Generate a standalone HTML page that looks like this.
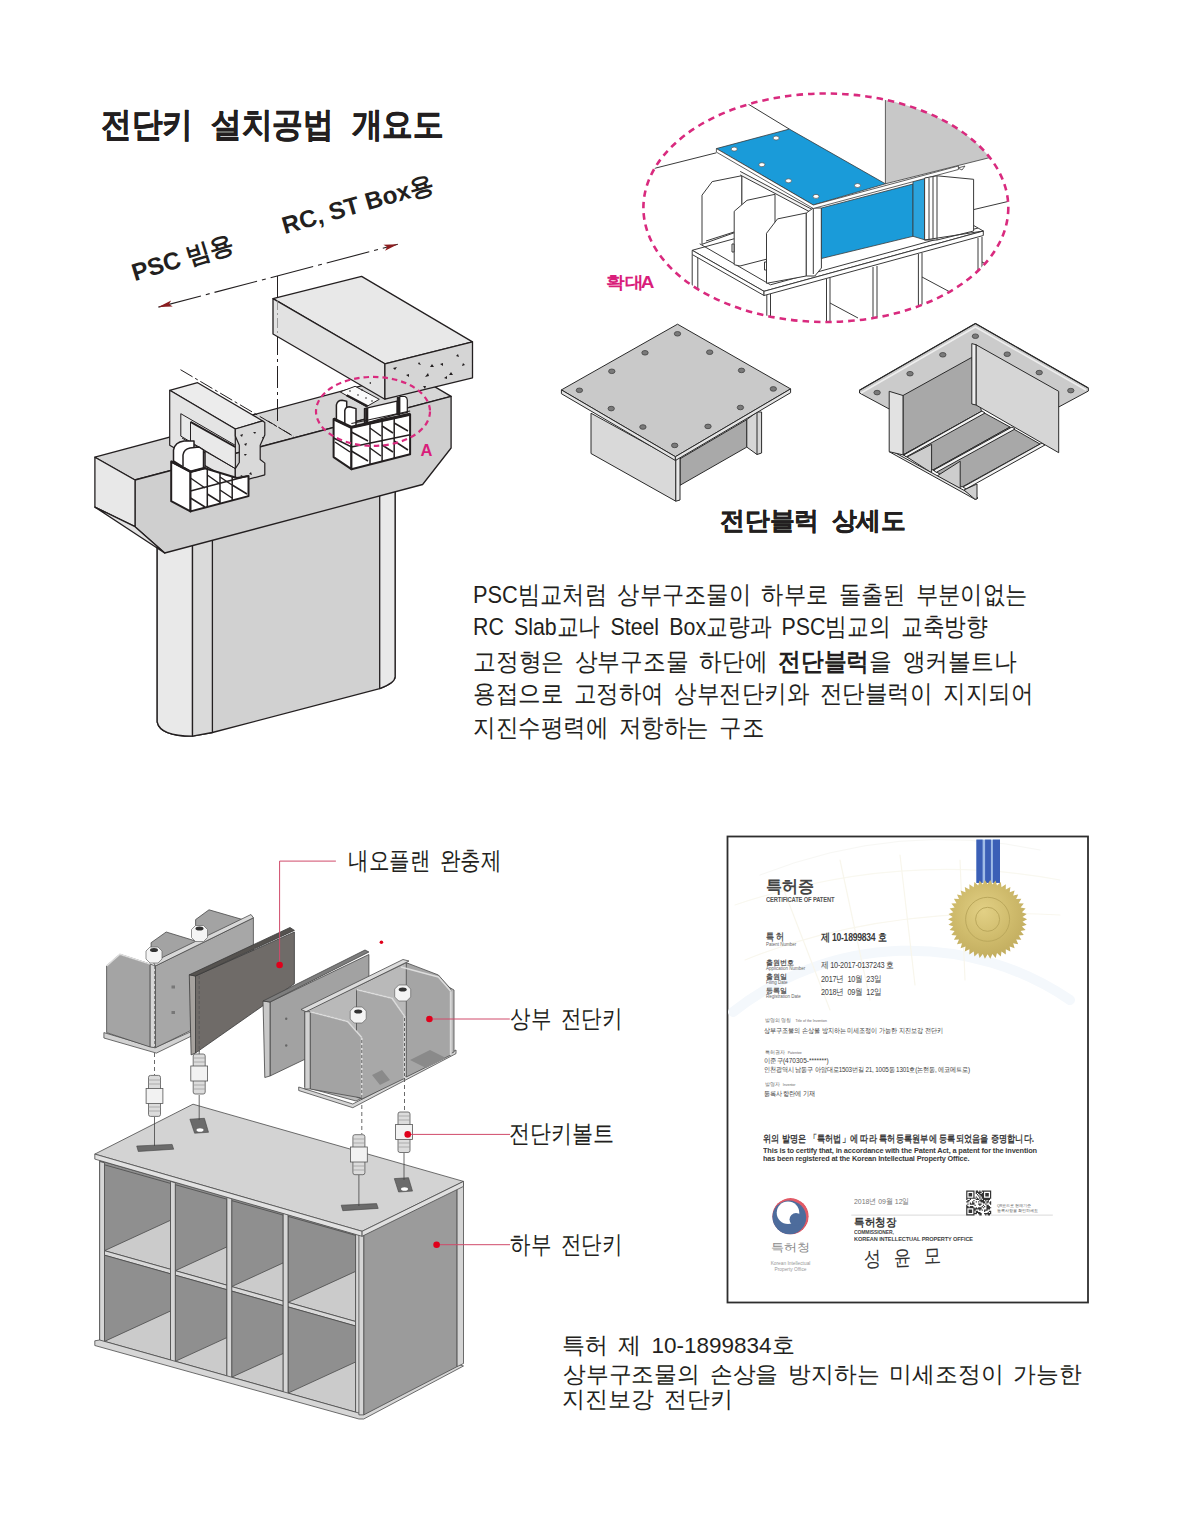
<!DOCTYPE html>
<html><head><meta charset="utf-8">
<style>
html,body{margin:0;padding:0;background:#fff;}
body{width:1180px;height:1520px;position:relative;overflow:hidden;font-family:"Liberation Sans",sans-serif;color:#231f20;}
.t{position:absolute;white-space:nowrap;line-height:1;}
.c{position:absolute;white-space:nowrap;line-height:1;transform-origin:0 0;}
svg{position:absolute;left:0;top:0;}
</style></head><body>
<svg width="1180" height="1520" viewBox="0 0 1180 1520">
<defs>
  <marker id="ah" viewBox="0 0 14 7" refX="14" refY="3.5" markerWidth="14" markerHeight="7" markerUnits="userSpaceOnUse" orient="auto"><path d="M0,0.4 L14,3.5 L0,6.6 L3,3.5 Z" fill="#8b1d1f"/></marker>
  <marker id="ah2" viewBox="0 0 14 7" refX="0" refY="3.5" markerWidth="14" markerHeight="7" markerUnits="userSpaceOnUse" orient="auto"><path d="M14,0.4 L0,3.5 L14,6.6 L11,3.5 Z" fill="#8b1d1f"/></marker>
</defs>
<g id="arrow" stroke="#231f20" fill="none">
  <line x1="158.4" y1="307.1" x2="397.8" y2="244.3" stroke-width="1.1" stroke-dasharray="44 5 4 5" marker-end="url(#ah)" marker-start="url(#ah2)"/>
  <line x1="277.5" y1="276" x2="277.5" y2="300" stroke-width="1"/>
</g>
<g id="pier" stroke="#231f20" stroke-width="1.3" stroke-linejoin="round">
  <path d="M157.2,540 L157.2,722 Q160,736 192.3,736.2 L212.4,732.5 L379.7,688.6 Q395,683 395.1,676.8 L395.1,480 Z" fill="#d1d1d1"/>
  <path d="M157.2,540 L157.2,722 Q160,736 192.5,736.2 L192.5,540 Z" fill="#e9e9e9"/>
  <path d="M192.5,540 L192.5,736.2 L212.4,732.5 L212.4,540 Z" fill="#dadada"/>
  <path d="M379.7,480 L379.7,688.6 Q395,683 395.1,676.8 L395.1,480 Z" fill="#e9e9e9"/>
  <path d="M94.9,457.2 L410.7,372.6 L451.1,396.4 L135,480 Z" fill="#d6d6d6"/>
  <path d="M135,480 L451.1,396.4 L451.1,448 L422.6,484.5 L164.7,553 L135,526.7 Z" fill="#cfcfcf"/>
  <path d="M94.9,457.2 L135,480 L135,526.7 L94.9,507.1 Z" fill="#e8e8e8"/>
  <path d="M94.9,507.1 L135,526.7 L164.7,553 Z" fill="#e3e3e3"/>
</g>
<g id="dashes" stroke="#231f20" fill="none" stroke-width="1">
  <line x1="277.5" y1="300" x2="277.5" y2="425" stroke-dasharray="22 4 3 4"/>
  <line x1="268" y1="421" x2="294" y2="436.6" stroke-dasharray="9 3 3 3"/>
</g>
<g id="girder" stroke="#231f20" stroke-width="1.3" stroke-linejoin="round">
  <path d="M273,298.6 L361.6,276.4 L472.5,341.9 L384.9,363.8 Z" fill="#e8e8e8"/>
  <path d="M273,298.6 L384.9,363.8 L384.9,399.2 L273,334 Z" fill="#e2e2e2"/>
  <path d="M384.9,363.8 L472.5,341.9 L472.5,377.8 L384.9,399.2 Z" fill="#d5d5d5"/>
  <line x1="277.5" y1="300" x2="277.5" y2="336" stroke-width="0.8" stroke="#888" stroke-dasharray="10 3 2 3"/>
  <g fill="#231f20" stroke="none">
    <path d="M393,368 l4,-1 l-2,3z M418,364 l3,1 l-2,-3z M430,367 l4,0 l-2,-3z M440,364 l3,2 l0,-3z M425,377 l4,-1 l-1,-3z M406,375 l3,2 l0,-3z M456,356 l3,1 l-1,-3z M462,366 l3,-1 l-2,-2z M449,375 l4,0 l-2,-3z M444,378 l3,1 l0,-3z M423,386 l2,3 l1,-3z M369,383 l2,1 l0,-2z"/>
  </g>
</g>
<g id="psc" stroke="#231f20" stroke-width="1.2" stroke-linejoin="round">
  <path d="M169.7,390.3 L197.6,382.7 L262.7,420.9 L235.3,429 Z" fill="#ececec"/>
  <path d="M169.7,390.3 L235.3,429 L235.3,482.9 L169.7,445.3 Z" fill="#e4e4e4"/>
  <path d="M180.8,413.7 L235.3,445.3 L235.3,468.6 L180.8,436.1 Z" fill="#e9e9e9" stroke-width="1"/>
  <path d="M190.5,421.9 L235.3,447" fill="none" stroke-width="2"/>
  <path d="M190.5,421.9 L190.5,441" fill="none" stroke-width="1"/>
  <path d="M182,438 L235.3,468.6" fill="none" stroke-width="1"/>
  <path d="M235.3,429 L262.7,420.9 L264.8,422.4 L264.8,435.1 L260.2,445.3 L260.2,459.5 L264.8,463.1 L264.8,474.8 L235.3,482.9 L235.3,468.6 L239.3,462.5 L239.3,445.3 L235.3,436.1 Z" fill="#d9d9d9"/>
  <g fill="#231f20" stroke="none"><path d="M240,435 l3,-1 l-1,3z M253,432 l3,0 l-1,2z M244,444 l2,2 l1,-3z M245,456 l2,-2 l-3,0z M240,476 l3,1 l-1,-2z M249,474 l2,-2 l1,3z M262,437 l2,0 l-1,2z"/></g>
  <line x1="180.5" y1="369.7" x2="294" y2="436.6" stroke-width="1" stroke-dasharray="14 3 3 3"/>
</g>
<g id="keyL" stroke="#231f20" stroke-linejoin="round" fill="#fff">
  <path d="M171.2,461.5 L190.5,471.7 L190.5,511.4 L171.2,501.2 Z" stroke-width="2"/>
  <path d="M190.5,471.7 L204,468 L237,478 L248.5,476 L248.5,496.1 L190.5,511.4 Z" stroke-width="2"/>
  <g fill="none" stroke-width="1.5">
    <path d="M207.3,467 L207.3,507 M220,472 L220,503.6 M232.2,476 L232.2,500.3 M190.5,491 L247.5,476"/>
    <path d="M190.5,478 L205,488 M207.3,475 L220,484 M220,477 L232,485 M190.5,498 L205,507 M207.3,494 L220,502 M220,490 L232,498 M232.2,485 L247,494"/>
  </g>
  <path d="M173.5,461 L173.5,450 Q175,442 184,441 L194,441 L194,455 L205,452 L205,468 L190.5,471.7 Z" stroke-width="1.5"/>
  <path d="M183,466 L183,455 Q184,449 190,448 L199,447 L203.5,450 L203.5,468" stroke-width="1.5"/>
  <path d="M171.2,461.5 L190.5,471.7 L205,468" fill="none" stroke-width="2.5"/>
</g>
<g id="keyR" stroke="#231f20" stroke-linejoin="round" fill="#fff">
  <path d="M333.6,418.9 L351.4,427.3 L351.4,469.2 L333.6,457.1 Z" stroke-width="2"/>
  <path d="M351.4,427.3 L410.1,414.2 L410.1,454.3 L351.4,469.2 Z" stroke-width="2"/>
  <g fill="none" stroke-width="1.5">
    <path d="M370,423 L370,464.5 M382.1,420.4 L382.1,461.5 M394.2,417.7 L394.2,458.4 M351.4,446.9 L410.1,434.7 M333.6,438 L351.4,446.9"/>
    <path d="M351.4,432 L368,441 M370,428 L381,436 M382.1,426 L393,433 M394.2,423 L408,431 M351.4,451 L368,461 M370,448 L381,456 M382.1,445 L393,452 M394.2,441 L408,450 M335,442 L350,452"/>
  </g>
  <path d="M340.2,391.9 L355.1,386.3 L379.3,399.3 L366.3,406.8 Z" fill="#fafafa" stroke-width="1"/>
  <path d="M346.6,395.3 L367.6,406.3" fill="none" stroke-width="2.2"/>
  <g fill="#231f20" stroke="none"><circle cx="350" cy="391" r="0.8"/><circle cx="358" cy="395" r="0.8"/><circle cx="366" cy="398" r="0.8"/><circle cx="372" cy="401" r="0.8"/><circle cx="362" cy="390" r="0.8"/></g>
  <path d="M336.4,420 L336.4,404.9 Q337.5,400.3 342,400.3 L346.7,401.2 L346.7,424" stroke-width="1.5"/>
  <path d="M344.8,424 L344.8,410.5 Q345.5,406.8 349.5,406.8 L356,408.6 L356,427" stroke-width="1.5"/>
  <path d="M364.4,408.6 L397,401.2 L397,414.2 L364.4,423.6 Z" stroke-width="1.2"/>
  <path d="M366.7,408 L366.7,425" stroke-width="3.2"/>
  <path d="M399.8,396.5 L405,396.5 Q407.3,397.5 407.3,400 L407.3,412.4 L399.8,414 Z" stroke-width="1.2"/>
  <path d="M398.4,397 L398.4,415" stroke-width="3.2"/>
  <path d="M351.4,423.5 L410.1,411" fill="none" stroke-width="1.2"/>
  <path d="M333.6,418.9 L351.4,427.3 L410.1,414.2" fill="none" stroke-width="3"/>
</g>
<g id="ellA" fill="none" stroke="#d92a7e" stroke-width="2.2">
  <ellipse cx="373" cy="411.4" rx="57" ry="34.5" stroke-dasharray="5.5 4"/>
</g>
<text x="420.5" y="455.5" font-family="Liberation Sans, sans-serif" font-weight="bold" font-size="16.5" fill="#d91e7b">A</text>
<defs><clipPath id="clipE"><ellipse cx="825.85" cy="207.75" rx="182.45" ry="114.25"/></clipPath></defs>
<g id="zoomA" clip-path="url(#clipE)" stroke="#3a3a3a" stroke-width="1" stroke-linejoin="round" fill="#fff">
  <path d="M640,172 L716.4,152.8 M730,93 L789.3,129.1 M973.6,209.6 L1010,201" fill="none"/>
  <path d="M885.4,80 L885.4,183.8 L1010,152.5 L1010,80 Z" fill="#c8c8c8" stroke-width="0.8"/>
  <path d="M958,168 l7,-2 l-3,4z" fill="#fff" stroke-width="0.8"/>
  <!-- legs and grid below base -->
  <g fill="none">
    <path d="M692.2,254.5 L692.2,340 M697.8,256 L697.8,340 M766.8,295 L766.8,340 M770.5,294 L770.5,340 M826.5,279 L826.5,340 M830,278 L830,340 M873,267 L873,340 M877,266 L877,340 M918.4,254 L918.4,340 M922,253 L922,340 M978,238 L978,340 M982,237 L982,340"/>
    <path d="M922,277 L950,292 M830,303 L858,318 M982,262 L1010,276"/>
  </g>
  <!-- base frame -->
  <path d="M692.2,250.3 L764,291.3 L983.3,231 L911.5,190 Z"/>
  <path d="M692.2,250.3 L764,291.3 L764,295.5 L692.2,254.5 Z"/>
  <path d="M764,291.3 L983.3,231 L983.3,235.5 L764,295.5 Z"/>
  <path d="M699.7,243.8 L770.5,284.8 L978,228" fill="none"/>
  <!-- back wall plates -->
  <path d="M702,244.3 L702,195.2 L712.2,181.6 L741.9,175.7 L741.9,230 Z"/>
  <path d="M741.9,175.7 L813,214 L813,270 L741.9,232 Z" stroke="none"/>
  <path d="M706,241 L734,232 M736,262 L766,254 M741.9,176 L741.9,226" fill="none"/>
  <path d="M734.2,264.7 L734.2,211.3 L747,200.3 L775,194.3 L775,257 L740,266 Z"/>
  <path d="M766.5,283.3 L766.5,233.3 L777.5,218.9 L806.3,213 L806.3,276 Z"/>
  <path d="M732,244 l2,0 l0,8 l-2,0 z M764.5,262 l2,0 l0,8 l-2,0z" fill="#fff"/>
  <!-- left flange strip under plate -->
  <path d="M740.2,171.4 L813.9,210.4 L813.9,214 L740.2,175" fill="#f4f4f4"/>
  <!-- front vertical plate -->
  <path d="M806.3,213 L813.3,208 L821.4,208 L821.4,268 L814.8,276 L806.3,276 Z"/>
  <path d="M813.3,208 L813.3,274" fill="none"/>
  <!-- blue web -->
  <path d="M821.4,208 L913,184 L913,236.3 L821.4,258.5 Z" fill="#1a9bd9" stroke-width="0.8"/>
  <path d="M913,181.1 L924.6,178.4 L924.6,239.8 L913,236.3 Z" fill="#2ba3dd" stroke-width="0.8"/>
  <!-- blue top plate -->
  <path d="M716.4,148.6 L789.3,129.1 L885.4,183.8 L813.3,205 Z" fill="#1a9bd9" stroke-width="0.8"/>
  <path d="M716.4,148.6 L813.3,205 L958.4,166 L958.4,169.5 L813.3,208.5 L716.4,152.1 Z" fill="#fff" stroke-width="0.8"/>
  <g fill="#fff" stroke="#555" stroke-width="0.7">
    <ellipse cx="734.2" cy="149.1" rx="3" ry="2"/><ellipse cx="776.1" cy="138" rx="3" ry="2"/><ellipse cx="761.9" cy="164.7" rx="3" ry="2"/><ellipse cx="788.5" cy="180.8" rx="3" ry="2"/><ellipse cx="816" cy="196.4" rx="3" ry="2"/><ellipse cx="857.5" cy="185.5" rx="3" ry="2"/>
  </g>
  <!-- right shear key -->
  <path d="M924.6,178 L937,175.8 L973.6,179.3 L973.6,231 L937,240 L924.6,240 Z"/>
  <path d="M929,178 L929,240 M933,177 L933,239 M937,176 L937,240" fill="none"/>
  <path d="M924.6,240 L983.3,231" fill="none"/>
</g>
<ellipse cx="825.85" cy="207.75" rx="182.45" ry="114.25" fill="none" stroke="#d92a7e" stroke-width="2.6" stroke-dasharray="6.5 5"/>
<text x="606.5" y="288" font-family="Liberation Sans, sans-serif" font-weight="bold" font-size="17.2" fill="#d91e7b" transform="translate(606.5,288) scale(1.1,1) translate(-606.5,-288)">확대<tspan dx="-3">A</tspan></text>
<g id="blockL" stroke="#2a2a2a" stroke-width="1" stroke-linejoin="round">
  <path d="M591,413.2 L675.8,459.9 L675.8,501.2 L591,453.5 Z" fill="#d9d9d9"/>
  <path d="M680,458.8 L746.8,419.6 L746.8,447.1 L680,485.3 Z" fill="#a9a9a9"/>
  <path d="M746.8,419.6 L757,412 L761.6,412 L761.6,453 L757,454.5 L746.8,447.1 Z" fill="#d6d6d6"/>
  <path d="M757,412 L757,454.5" fill="none"/>
  <path d="M675.8,458 L680,457 L680,500 L675.8,501.2 Z" fill="#e8e8e8"/>
  <path d="M677.5,324.2 L790.6,388.9 L675.4,456.7 L561.4,389.9 Z" fill="#c9c9c9"/>
  <path d="M561.4,389.9 L675.4,456.7 L675.4,460.5 L561.4,393.7 Z" fill="#e4e4e4"/>
  <path d="M675.4,456.7 L790.6,388.9 L790.6,392.7 L675.4,460.5 Z" fill="#e4e4e4"/>
  <g fill="#7a7a7a" stroke="#444" stroke-width="0.8">
    <ellipse cx="677.5" cy="333.8" rx="3.2" ry="2.3"/><ellipse cx="645" cy="352.8" rx="3.2" ry="2.3"/><ellipse cx="709.7" cy="352.2" rx="3.2" ry="2.3"/><ellipse cx="611.8" cy="371.3" rx="3.2" ry="2.3"/><ellipse cx="741.5" cy="370.4" rx="3.2" ry="2.3"/><ellipse cx="579.4" cy="390.3" rx="3.2" ry="2.3"/><ellipse cx="773.3" cy="388.9" rx="3.2" ry="2.3"/><ellipse cx="611.2" cy="408.6" rx="3.2" ry="2.3"/><ellipse cx="740.4" cy="407.5" rx="3.2" ry="2.3"/><ellipse cx="642.9" cy="427" rx="3.2" ry="2.3"/><ellipse cx="708" cy="426.4" rx="3.2" ry="2.3"/><ellipse cx="674.7" cy="445.4" rx="3.2" ry="2.3"/>
  </g>
</g>
<g id="blockR" stroke="#2a2a2a" stroke-width="1" stroke-linejoin="round">
  <path d="M975.4,323.5 L1088.4,388.1 L1088.4,391 L1058.7,407 L976,360 L903,397 L889.2,409 L859.5,393 L859.5,390.2 Z" fill="#cbcbcb"/>
  <path d="M859.5,390.2 L975.4,323.5 L1088.4,388.1" fill="none" stroke-width="1.2"/>
  <path d="M861,393 L975.4,327 L1086,390" fill="none" stroke="#eee" stroke-width="1.5"/>
  <path d="M903,395.5 L971.8,357.4 L981.4,411.4 L903,454.9 Z" fill="#a8a8a8"/>
  <path d="M903,454.9 L981.4,411.4 L1010,427 L933,470 Z" fill="#a6a6a6"/>
  <path d="M933,470 L1010,427 L1040,444 L962,487 Z" fill="#a8a8a8"/>
  <path d="M907,457 L931.6,444.3 L931.6,472.9 Z M937,476 L960.2,461.2 L960.2,488.8 Z" fill="#cdcdcd"/>
  <path d="M904,454.9 L982,411 L985,413 L906,457 Z" fill="#f2f2f2"/>
  <path d="M934,470 L1012,427 L1015,429 L936,472.5 Z" fill="#f2f2f2"/>
  <path d="M963,487 L1042,443 L1045,445 L966,489 Z" fill="#f2f2f2"/>
  <path d="M889.2,451.7 L975,499.3 L978,498 L892,451 Z" fill="#e6e6e6"/>
  <path d="M889.2,391.3 L903,395.5 L903,454.9 L889.2,451.7 Z" fill="#e2e2e2"/>
  <path d="M964,490 L977,484 L977,499 L975,499.3 Z" fill="#cfcfcf"/>
  <path d="M976,344.7 L1058.7,391.3 L1058.7,452.7 L976,405 Z" fill="#d6d6d6"/>
  <path d="M971.8,343.6 L976,344.7 L976,405 L971.8,404 Z" fill="#eeeeee"/>
  <g fill="#7a7a7a" stroke="#444" stroke-width="0.8">
    <ellipse cx="975.4" cy="336.2" rx="3.2" ry="2.3"/><ellipse cx="942.8" cy="354.8" rx="3.2" ry="2.3"/><ellipse cx="1007.2" cy="354.2" rx="3.2" ry="2.3"/><ellipse cx="910" cy="373.7" rx="3.2" ry="2.3"/><ellipse cx="1039.2" cy="372.6" rx="3.2" ry="2.3"/><ellipse cx="877.1" cy="392.6" rx="3.2" ry="2.3"/><ellipse cx="1070.8" cy="390.6" rx="3.2" ry="2.3"/>
  </g>
</g>
<g id="lowerBox" stroke="#4a4a4a" stroke-width="0.8" stroke-linejoin="round">
  <path d="M99.7,1160.5 L358.9,1234.6 L358.9,1414.9 L99.7,1344 Z" fill="#8f8f8f"/>
    <path d="M104.5,1164.8 L170.5,1183.4 L170.5,1269.3 L104.5,1250.7 Z" fill="#8f8f8f"/>
    <path d="M104.5,1250.7 L170.5,1220.3 L170.5,1269.3 Z" fill="#cbcbcb"/>
    <path d="M104.5,1250.7 L170.5,1269.3 L170.5,1273.8 L104.5,1255.2 Z" fill="#d9d9d9"/>
    <path d="M104.5,1255.2 L170.5,1273.8 L170.5,1360.0 L104.5,1341.4 Z" fill="#8f8f8f"/>
    <path d="M104.5,1341.4 L170.5,1311.0 L170.5,1360.0 Z" fill="#cbcbcb"/>
    <path d="M175.3,1184.7 L226.9,1199.2 L226.9,1285.2 L175.3,1270.7 Z" fill="#8f8f8f"/>
    <path d="M175.3,1270.7 L226.9,1246.9 L226.9,1285.2 Z" fill="#cbcbcb"/>
    <path d="M175.3,1270.7 L226.9,1285.2 L226.9,1289.7 L175.3,1275.2 Z" fill="#d9d9d9"/>
    <path d="M175.3,1275.2 L226.9,1289.7 L226.9,1375.9 L175.3,1361.3 Z" fill="#8f8f8f"/>
    <path d="M175.3,1361.3 L226.9,1337.6 L226.9,1375.9 Z" fill="#cbcbcb"/>
    <path d="M231.7,1200.6 L283.2,1215.1 L283.2,1301.1 L231.7,1286.6 Z" fill="#8f8f8f"/>
    <path d="M231.7,1286.6 L283.2,1262.9 L283.2,1301.1 Z" fill="#cbcbcb"/>
    <path d="M231.7,1286.6 L283.2,1301.1 L283.2,1305.6 L231.7,1291.1 Z" fill="#d9d9d9"/>
    <path d="M231.7,1291.1 L283.2,1305.6 L283.2,1391.7 L231.7,1377.2 Z" fill="#8f8f8f"/>
    <path d="M231.7,1377.2 L283.2,1353.5 L283.2,1391.7 Z" fill="#cbcbcb"/>
    <path d="M288.0,1216.4 L355.6,1235.4 L355.6,1321.5 L288.0,1302.4 Z" fill="#8f8f8f"/>
    <path d="M288.0,1302.4 L355.6,1271.4 L355.6,1321.5 Z" fill="#cbcbcb"/>
    <path d="M288.0,1302.4 L355.6,1321.5 L355.6,1326.0 L288.0,1306.9 Z" fill="#d9d9d9"/>
    <path d="M288.0,1306.9 L355.6,1326.0 L355.6,1412.2 L288.0,1393.1 Z" fill="#8f8f8f"/>
    <path d="M288.0,1393.1 L355.6,1362.0 L355.6,1412.2 Z" fill="#cbcbcb"/>
    <path d="M99.7,1161.5 L104.5,1162.8 L104.5,1342.4 L99.7,1341.0 Z" fill="#d6d6d6"/>
    <path d="M170.5,1181.4 L175.3,1182.7 L175.3,1362.3 L170.5,1361.0 Z" fill="#d6d6d6"/>
    <path d="M226.9,1197.2 L231.7,1198.6 L231.7,1378.2 L226.9,1376.9 Z" fill="#d6d6d6"/>
    <path d="M283.2,1213.1 L288.0,1214.4 L288.0,1394.1 L283.2,1392.7 Z" fill="#d6d6d6"/>
    <path d="M355.6,1233.4 L360.4,1234.8 L360.4,1414.5 L355.6,1413.2 Z" fill="#d6d6d6"/>
  <path d="M94.8,1340.8 L99.7,1340 L360.5,1413.5 L457.1,1364 L463.5,1366 L363.7,1419 L358.9,1419 L94.8,1345.5 Z" fill="#d6d6d6"/>
  <path d="M363.7,1234.6 L457.1,1186.3 L457.1,1366.6 L363.7,1414.9 Z" fill="#9b9b9b"/>
  <path d="M457.1,1186.3 L463.5,1183 L463.5,1363.5 L457.1,1366.6 Z" fill="#d4d4d4"/>
  <path d="M358.9,1234.6 L363.7,1234.6 L363.7,1414.9 L358.9,1414.9 Z" fill="#d6d6d6"/>
  <path d="M94.8,1154.1 L193,1104.2 L463.5,1181.4 L362.1,1231.3 Z" fill="#d3d3d3"/>
  <path d="M94.8,1154.1 L362.1,1231.3 L362.1,1236.3 L94.8,1159.1 Z" fill="#e2e2e2"/>
  <path d="M362.1,1231.3 L463.5,1181.4 L463.5,1186.4 L362.1,1236.3 Z" fill="#e0e0e0"/>
  <g fill="#6b6b6b" stroke="#444" stroke-width="0.6">
    <path d="M136.7,1146 L172.1,1144.4 L173.7,1149.2 L138.3,1151.5 Z"/>
    <path d="M341.2,1205.2 L376.6,1203.6 L378.2,1208.4 L342.8,1210.7 Z"/>
    <path d="M189.9,1119.2 L204.4,1118.3 L208.5,1132.3 L194.6,1133.2 Z"/>
    <path d="M394.3,1178.6 L408.5,1177.7 L412.5,1191.1 L398.6,1192 Z"/>
  </g>
  <ellipse cx="200" cy="1130" rx="3.5" ry="1.8" fill="#fff" stroke="none"/>
  <ellipse cx="404.5" cy="1189" rx="3.5" ry="1.8" fill="#fff" stroke="none"/>
</g>
<g id="bolts" stroke="#555" stroke-width="0.8">
  <path d="M154.5,1053 L154.5,1075 M199.2,1036 L199.2,1054 M361.8,1098 L361.8,1134 M404.5,1078 L404.5,1111" stroke="#444" stroke-dasharray="4 3" fill="none"/>
  <path d="M154.5,1117 L154.5,1146 M199.2,1095 L199.2,1120 M358.9,1175 L358.9,1206 M404,1153 L404,1180" fill="none" stroke="#444"/>
  <g fill="#dcdcdc">
    <rect x="148.5" y="1075.4" width="12" height="41" rx="2"/>
    <rect x="146.1" y="1088.5" width="16.8" height="15" fill="#f2f2f2"/>
    <rect x="193.2" y="1054" width="12" height="40" rx="2"/>
    <rect x="190.8" y="1066" width="16.8" height="15" fill="#f2f2f2"/>
    <rect x="352.9" y="1134.7" width="12" height="40" rx="2"/>
    <rect x="350.5" y="1147" width="16.8" height="15" fill="#f2f2f2"/>
    <rect x="398" y="1112" width="12" height="40.5" rx="2"/>
    <rect x="395.6" y="1124.5" width="16.8" height="15" fill="#f2f2f2"/>
  </g>
  <path d="M148.5,1080 h12 M148.5,1084 h12 M148.5,1107 h12 M148.5,1111 h12 M193.2,1058 h12 M193.2,1062 h12 M193.2,1085 h12 M193.2,1089 h12 M352.9,1139 h12 M352.9,1143 h12 M352.9,1166 h12 M352.9,1170 h12 M398,1116 h12 M398,1120 h12 M398,1143 h12 M398,1147 h12" fill="none" stroke="#999" stroke-width="0.7"/>
</g>
<g id="upperL" stroke="#4a4a4a" stroke-width="0.8" stroke-linejoin="round">
  <path d="M195.6,940 L195.6,919.6 L209,909.8 L242.7,919.6 L242.7,935 Z" fill="#a3a3a3"/>
  <path d="M151.1,962 L151.1,942.7 L166.2,932 L198.2,941.8 L198.2,950 Z" fill="#a3a3a3"/>
  <path d="M103.9,1032.6 L154.6,1047.7 L191.1,1031.7 L191.1,1036.2 L156.4,1053.1 L103.9,1038 Z" fill="#d2d2d2"/>
  <path d="M155.5,965.9 L253.4,917.8 L253.4,1000 L155.5,1047.7 Z" fill="#a7a7a7"/>
  <path d="M153,962 L251,914.5 L253.4,917.8 L155.5,965.9 Z" fill="#d8d8d8"/>
  <path d="M106.6,1032.6 L106.6,965.9 L119.9,954.3 L150.2,964.1 L150.2,1047 Z" fill="#a4a4a4"/>
  <path d="M150.2,964.1 L155.5,965.9 L155.5,1047.7 L150.2,1047 Z" fill="#d6d6d6"/>
  <path d="M106.6,965.9 L119.9,954.3 L150.2,964.1" fill="none" stroke="#ddd" stroke-width="1.5"/>
  <g fill="#f4f4f4" stroke="#666" stroke-width="0.7">
    <path d="M146,951 L150,947 L158,947 L162,951 L162,959 L158,963 L150,963 L146,959 Z"/>
    <path d="M191.5,929.5 L195.5,925.5 L203.5,925.5 L207.5,929.5 L207.5,937.5 L203.5,941.5 L195.5,941.5 L191.5,937.5 Z"/>
  </g>
  <ellipse cx="154" cy="950" rx="4" ry="2" fill="#333" stroke="none"/>
  <ellipse cx="199.5" cy="928.5" rx="4" ry="2" fill="#333" stroke="none"/>
  <path d="M154.6,966 L154.6,1047" stroke="#666" stroke-dasharray="3 2" fill="none"/>
  <g fill="#777" stroke="none"><rect x="171.5" y="985.5" width="3.5" height="3"/><rect x="171.5" y="1011" width="3.5" height="3"/></g>
</g>
<g id="pad1" stroke="#3a3a3a" stroke-width="0.8" stroke-linejoin="round">
  <path d="M195.5,976 L294.4,932 L294.4,983.7 L195.5,1053 Z" fill="#6f6b68"/>
  <path d="M189.3,974.8 L195.5,976 L195.5,1053 L191.1,1054.9 Z" fill="#a6a29e"/>
  <path d="M189.3,974.8 L290,927.5 L294.4,930.4 L195.5,976 Z" fill="#55524f"/>
  <path d="M199.2,976 L199.2,1052" stroke="#555" stroke-dasharray="3 2" fill="none"/>
</g>
<g id="pad2" stroke="#444" stroke-width="0.8" stroke-linejoin="round">
  <path d="M270,1002 L368.9,954.5 L368.9,1028.6 L270,1076 Z" fill="#a2a2a2"/>
  <path d="M263,1001 L270,1002 L270,1076 L264.8,1077.5 Z" fill="#c8c8c8"/>
  <path d="M263,1001 L365,950 L368.9,952 L270,1002 Z" fill="#7d7d7d"/>
  <g fill="#666" stroke="none"><circle cx="286.2" cy="1018.8" r="1.2"/><circle cx="286.2" cy="1045.5" r="1.2"/></g>
</g>
<g id="upperR" stroke="#4a4a4a" stroke-width="0.8" stroke-linejoin="round">
  <path d="M298.7,1087 L352.8,1104 L456,1050 L456,1053.6 L352.8,1107.7 L298.7,1090.5 Z" fill="#d6d6d6"/>
  <path d="M304.8,1011.7 L406.3,962.7 L454,990 L454,1052 L356,1101 L304.8,1087 Z" fill="#b9b9b9"/>
  <path d="M406.3,962.7 L438.4,975 L450.8,989 L450.8,1055 L406.3,1077 Z" fill="#a5a5a5"/>
  <path d="M356.5,989.4 L392,998.3 L404.5,1016.1 L404.5,1078.4 L362,1099 L356.5,1097 Z" fill="#a8a8a8"/>
  <path d="M410,1060 L430,1050 L446,1058 L426,1068 Z M372,1075 l10,-5 l8,10 l-10,5z" fill="#8a8a8a" stroke="none"/>
  <path d="M310.2,1011.7 L347.6,1021.5 L361.8,1037.5 L361.8,1098 L310.2,1089 Z" fill="#a3a3a3"/>
  <path d="M304.8,1011.7 L310.2,1011.7 L310.2,1089 L304.8,1089 Z" fill="#d2d2d2"/>
  <path d="M301,1009.5 L403,959.5 L409,961 L306,1011.7 Z" fill="#dcdcdc"/>
  <path d="M310.2,1011.7 L347.6,1021.5 L361.8,1037.5 M356.5,989.4 L392,998.3 L404.5,1016.1 M401,967 L438.4,977 L450.8,991.2" fill="none" stroke="#ddd" stroke-width="1.5"/>
  <path d="M361.8,1037.5 L361.8,1098 M404.5,1016.1 L404.5,1078.4 M450.8,991.2 L450.8,1055" fill="none" stroke="#d8d8d8" stroke-width="2"/>
  <path d="M361.8,1040 L361.8,1098 M404.5,1018 L404.5,1080" stroke="#444" stroke-dasharray="3 2" fill="none"/>
  <g fill="#f4f4f4" stroke="#666" stroke-width="0.7">
    <path d="M350.2,1011 L354.2,1007 L362.2,1007 L366.2,1011 L366.2,1019 L362.2,1023 L354.2,1023 L350.2,1019 Z"/>
    <path d="M394.7,989 L398.7,985 L406.7,985 L410.7,989 L410.7,997 L406.7,1001 L398.7,1001 L394.7,997 Z"/>
  </g>
  <ellipse cx="358.2" cy="1011.5" rx="4" ry="2" fill="#333" stroke="none"/>
  <ellipse cx="402.7" cy="989.5" rx="4" ry="2" fill="#333" stroke="none"/>
</g>
<g id="leaders" stroke="#d04a6a" stroke-width="1" fill="none">
  <path d="M335.9,861.1 L279.6,861.1 L279.6,965"/>
  <path d="M429.4,1019 L509.8,1019"/>
  <path d="M407.7,1134.4 L510,1134.4"/>
  <path d="M436.6,1244.7 L510,1244.7"/>
</g>
<g fill="#e0001b">
  <circle cx="279.6" cy="965" r="3.3"/><circle cx="429.4" cy="1019" r="3.3"/><circle cx="407.7" cy="1134.4" r="3.3"/><circle cx="436.6" cy="1244.7" r="3.3"/><circle cx="381.4" cy="942.3" r="1.8"/>
</g>
<defs><radialGradient id="sealG" cx="0.45" cy="0.4" r="0.6"><stop offset="0" stop-color="#e2d085"/><stop offset="0.6" stop-color="#cfbb6c"/><stop offset="1" stop-color="#c2ad5f"/></radialGradient></defs>
<g id="cert">
  <rect x="727.5" y="836.5" width="360.5" height="466" fill="#fff" stroke="#2e2e2e" stroke-width="1.8"/>
  <g fill="none" stroke-linecap="round">
    <path d="M733,1012 A285,285 0 0 1 1070,1000" stroke="#f4f8fc" stroke-width="10"/>
    <path d="M735,905 Q900,850 1060,880" stroke="#f9f8f0" stroke-width="1.2"/>
    <path d="M745,960 Q880,905 1060,915" stroke="#f9f7ee" stroke-width="1.2"/>
    <path d="M840,860 L870,1000 M900,855 L915,985 M960,860 L965,980 M780,880 L830,1010" stroke="#f8f6ec" stroke-width="1.2"/>
    <path d="M760,875 Q900,820 1040,850" stroke="#f7f7f4" stroke-width="1"/>
  </g>
  <rect x="976.4" y="839.6" width="23.6" height="43.3" fill="#9fbbe6"/>
  <rect x="976.4" y="839.6" width="6.2" height="43.3" fill="#3b5fb6"/>
  <rect x="985.1" y="839.6" width="5.8" height="43.3" fill="#3b5fb6"/>
  <rect x="992.9" y="839.6" width="7.1" height="43.3" fill="#3b5fb6"/>
  <path d="M1027.1,919.3 L1022.5,921.7 L1026.7,924.7 L1021.9,926.4 L1025.6,930.0 L1020.6,931.0 L1023.8,935.0 L1018.7,935.4 L1021.3,939.8 L1016.2,939.5 L1018.2,944.2 L1013.2,943.2 L1014.6,948.2 L1009.7,946.4 L1010.4,951.6 L1005.8,949.2 L1005.8,954.4 L1001.5,951.4 L1000.8,956.5 L997.0,953.0 L995.6,958.0 L992.4,954.0 L990.3,958.7 L987.6,954.3 L984.9,958.7 L982.8,954.0 L979.6,958.0 L978.2,953.0 L974.4,956.5 L973.7,951.4 L969.4,954.4 L969.4,949.2 L964.8,951.6 L965.5,946.4 L960.6,948.2 L962.0,943.2 L957.0,944.2 L959.0,939.5 L953.9,939.8 L956.5,935.4 L951.4,935.0 L954.6,931.0 L949.6,930.0 L953.3,926.4 L948.5,924.7 L952.7,921.7 L948.1,919.3 L952.7,916.9 L948.5,913.9 L953.3,912.2 L949.6,908.6 L954.6,907.6 L951.4,903.6 L956.5,903.2 L953.9,898.8 L959.0,899.1 L957.0,894.4 L962.0,895.4 L960.6,890.4 L965.5,892.2 L964.8,887.0 L969.4,889.4 L969.4,884.2 L973.7,887.2 L974.4,882.1 L978.2,885.6 L979.6,880.6 L982.8,884.6 L984.9,879.9 L987.6,884.3 L990.3,879.9 L992.4,884.6 L995.6,880.6 L997.0,885.6 L1000.8,882.1 L1001.5,887.2 L1005.8,884.2 L1005.8,889.4 L1010.4,887.0 L1009.7,892.2 L1014.6,890.4 L1013.2,895.4 L1018.2,894.4 L1016.2,899.1 L1021.3,898.8 L1018.7,903.2 L1023.8,903.6 L1020.6,907.6 L1025.6,908.6 L1021.9,912.2 L1026.7,913.9 L1022.5,916.9 Z" fill="url(#sealG)"/>
  <circle cx="987.6" cy="919.3" r="22" fill="none" stroke="#bba85c" stroke-width="1"/>
  <circle cx="987.6" cy="919.3" r="12" fill="none" stroke="#bba85c" stroke-width="1"/>
  <defs><clipPath id="clipLogo"><circle cx="790.5" cy="1216.3" r="18.3"/></clipPath></defs>
  <g clip-path="url(#clipLogo)">
    <circle cx="790.5" cy="1216.3" r="18.3" fill="#e15a66"/>
    <circle cx="789.2" cy="1217.6" r="17" fill="#4d6c9c"/>
    <circle cx="788" cy="1212.8" r="11.3" fill="#fff"/>
    <circle cx="796" cy="1219.5" r="6.5" fill="#4d6c9c"/>
    
  </g>
  <line x1="851.3" y1="1215.1" x2="1052.8" y2="1215.1" stroke="#cfcfcf" stroke-width="0.8"/>
  <g fill="#333">
    <rect x="966.2" y="1190.5" width="25" height="25" fill="#fff"/><path d="M966.20,1190.50 h1.19 v1.19 h-1.19 z M966.20,1191.69 h1.19 v1.19 h-1.19 z M966.20,1192.88 h1.19 v1.19 h-1.19 z M966.20,1194.07 h1.19 v1.19 h-1.19 z M966.20,1195.26 h1.19 v1.19 h-1.19 z M966.20,1196.45 h1.19 v1.19 h-1.19 z M966.20,1197.64 h1.19 v1.19 h-1.19 z M966.20,1198.83 h1.19 v1.19 h-1.19 z M966.20,1201.21 h1.19 v1.19 h-1.19 z M966.20,1204.79 h1.19 v1.19 h-1.19 z M966.20,1205.98 h1.19 v1.19 h-1.19 z M966.20,1207.17 h1.19 v1.19 h-1.19 z M966.20,1208.36 h1.19 v1.19 h-1.19 z M966.20,1209.55 h1.19 v1.19 h-1.19 z M966.20,1210.74 h1.19 v1.19 h-1.19 z M966.20,1211.93 h1.19 v1.19 h-1.19 z M966.20,1213.12 h1.19 v1.19 h-1.19 z M966.20,1214.31 h1.19 v1.19 h-1.19 z M967.39,1190.50 h1.19 v1.19 h-1.19 z M967.39,1197.64 h1.19 v1.19 h-1.19 z M967.39,1200.02 h1.19 v1.19 h-1.19 z M967.39,1201.21 h1.19 v1.19 h-1.19 z M967.39,1203.60 h1.19 v1.19 h-1.19 z M967.39,1205.98 h1.19 v1.19 h-1.19 z M967.39,1207.17 h1.19 v1.19 h-1.19 z M967.39,1214.31 h1.19 v1.19 h-1.19 z M968.58,1190.50 h1.19 v1.19 h-1.19 z M968.58,1192.88 h1.19 v1.19 h-1.19 z M968.58,1194.07 h1.19 v1.19 h-1.19 z M968.58,1195.26 h1.19 v1.19 h-1.19 z M968.58,1197.64 h1.19 v1.19 h-1.19 z M968.58,1200.02 h1.19 v1.19 h-1.19 z M968.58,1207.17 h1.19 v1.19 h-1.19 z M968.58,1209.55 h1.19 v1.19 h-1.19 z M968.58,1210.74 h1.19 v1.19 h-1.19 z M968.58,1211.93 h1.19 v1.19 h-1.19 z M968.58,1214.31 h1.19 v1.19 h-1.19 z M969.77,1190.50 h1.19 v1.19 h-1.19 z M969.77,1192.88 h1.19 v1.19 h-1.19 z M969.77,1194.07 h1.19 v1.19 h-1.19 z M969.77,1195.26 h1.19 v1.19 h-1.19 z M969.77,1197.64 h1.19 v1.19 h-1.19 z M969.77,1198.83 h1.19 v1.19 h-1.19 z M969.77,1202.40 h1.19 v1.19 h-1.19 z M969.77,1203.60 h1.19 v1.19 h-1.19 z M969.77,1205.98 h1.19 v1.19 h-1.19 z M969.77,1207.17 h1.19 v1.19 h-1.19 z M969.77,1209.55 h1.19 v1.19 h-1.19 z M969.77,1210.74 h1.19 v1.19 h-1.19 z M969.77,1211.93 h1.19 v1.19 h-1.19 z M969.77,1214.31 h1.19 v1.19 h-1.19 z M970.96,1190.50 h1.19 v1.19 h-1.19 z M970.96,1192.88 h1.19 v1.19 h-1.19 z M970.96,1194.07 h1.19 v1.19 h-1.19 z M970.96,1195.26 h1.19 v1.19 h-1.19 z M970.96,1197.64 h1.19 v1.19 h-1.19 z M970.96,1203.60 h1.19 v1.19 h-1.19 z M970.96,1205.98 h1.19 v1.19 h-1.19 z M970.96,1207.17 h1.19 v1.19 h-1.19 z M970.96,1209.55 h1.19 v1.19 h-1.19 z M970.96,1210.74 h1.19 v1.19 h-1.19 z M970.96,1211.93 h1.19 v1.19 h-1.19 z M970.96,1214.31 h1.19 v1.19 h-1.19 z M972.15,1190.50 h1.19 v1.19 h-1.19 z M972.15,1197.64 h1.19 v1.19 h-1.19 z M972.15,1201.21 h1.19 v1.19 h-1.19 z M972.15,1202.40 h1.19 v1.19 h-1.19 z M972.15,1203.60 h1.19 v1.19 h-1.19 z M972.15,1205.98 h1.19 v1.19 h-1.19 z M972.15,1207.17 h1.19 v1.19 h-1.19 z M972.15,1214.31 h1.19 v1.19 h-1.19 z M973.34,1190.50 h1.19 v1.19 h-1.19 z M973.34,1191.69 h1.19 v1.19 h-1.19 z M973.34,1192.88 h1.19 v1.19 h-1.19 z M973.34,1194.07 h1.19 v1.19 h-1.19 z M973.34,1195.26 h1.19 v1.19 h-1.19 z M973.34,1196.45 h1.19 v1.19 h-1.19 z M973.34,1197.64 h1.19 v1.19 h-1.19 z M973.34,1200.02 h1.19 v1.19 h-1.19 z M973.34,1202.40 h1.19 v1.19 h-1.19 z M973.34,1203.60 h1.19 v1.19 h-1.19 z M973.34,1207.17 h1.19 v1.19 h-1.19 z M973.34,1208.36 h1.19 v1.19 h-1.19 z M973.34,1209.55 h1.19 v1.19 h-1.19 z M973.34,1210.74 h1.19 v1.19 h-1.19 z M973.34,1211.93 h1.19 v1.19 h-1.19 z M973.34,1213.12 h1.19 v1.19 h-1.19 z M973.34,1214.31 h1.19 v1.19 h-1.19 z M974.53,1197.64 h1.19 v1.19 h-1.19 z M974.53,1204.79 h1.19 v1.19 h-1.19 z M974.53,1208.36 h1.19 v1.19 h-1.19 z M974.53,1209.55 h1.19 v1.19 h-1.19 z M974.53,1213.12 h1.19 v1.19 h-1.19 z M975.72,1190.50 h1.19 v1.19 h-1.19 z M975.72,1191.69 h1.19 v1.19 h-1.19 z M975.72,1192.88 h1.19 v1.19 h-1.19 z M975.72,1196.45 h1.19 v1.19 h-1.19 z M975.72,1198.83 h1.19 v1.19 h-1.19 z M975.72,1201.21 h1.19 v1.19 h-1.19 z M975.72,1207.17 h1.19 v1.19 h-1.19 z M975.72,1208.36 h1.19 v1.19 h-1.19 z M975.72,1210.74 h1.19 v1.19 h-1.19 z M975.72,1211.93 h1.19 v1.19 h-1.19 z M975.72,1213.12 h1.19 v1.19 h-1.19 z M976.91,1190.50 h1.19 v1.19 h-1.19 z M976.91,1191.69 h1.19 v1.19 h-1.19 z M976.91,1194.07 h1.19 v1.19 h-1.19 z M976.91,1197.64 h1.19 v1.19 h-1.19 z M976.91,1198.83 h1.19 v1.19 h-1.19 z M976.91,1208.36 h1.19 v1.19 h-1.19 z M976.91,1210.74 h1.19 v1.19 h-1.19 z M976.91,1211.93 h1.19 v1.19 h-1.19 z M978.10,1191.69 h1.19 v1.19 h-1.19 z M978.10,1192.88 h1.19 v1.19 h-1.19 z M978.10,1195.26 h1.19 v1.19 h-1.19 z M978.10,1198.83 h1.19 v1.19 h-1.19 z M978.10,1201.21 h1.19 v1.19 h-1.19 z M978.10,1203.60 h1.19 v1.19 h-1.19 z M978.10,1207.17 h1.19 v1.19 h-1.19 z M978.10,1208.36 h1.19 v1.19 h-1.19 z M978.10,1211.93 h1.19 v1.19 h-1.19 z M978.10,1213.12 h1.19 v1.19 h-1.19 z M979.30,1190.50 h1.19 v1.19 h-1.19 z M979.30,1191.69 h1.19 v1.19 h-1.19 z M979.30,1192.88 h1.19 v1.19 h-1.19 z M979.30,1194.07 h1.19 v1.19 h-1.19 z M979.30,1196.45 h1.19 v1.19 h-1.19 z M979.30,1197.64 h1.19 v1.19 h-1.19 z M979.30,1200.02 h1.19 v1.19 h-1.19 z M979.30,1203.60 h1.19 v1.19 h-1.19 z M979.30,1204.79 h1.19 v1.19 h-1.19 z M979.30,1207.17 h1.19 v1.19 h-1.19 z M979.30,1208.36 h1.19 v1.19 h-1.19 z M979.30,1209.55 h1.19 v1.19 h-1.19 z M979.30,1211.93 h1.19 v1.19 h-1.19 z M979.30,1213.12 h1.19 v1.19 h-1.19 z M979.30,1214.31 h1.19 v1.19 h-1.19 z M980.49,1191.69 h1.19 v1.19 h-1.19 z M980.49,1194.07 h1.19 v1.19 h-1.19 z M980.49,1195.26 h1.19 v1.19 h-1.19 z M980.49,1198.83 h1.19 v1.19 h-1.19 z M980.49,1200.02 h1.19 v1.19 h-1.19 z M980.49,1201.21 h1.19 v1.19 h-1.19 z M980.49,1203.60 h1.19 v1.19 h-1.19 z M980.49,1207.17 h1.19 v1.19 h-1.19 z M980.49,1208.36 h1.19 v1.19 h-1.19 z M980.49,1213.12 h1.19 v1.19 h-1.19 z M980.49,1214.31 h1.19 v1.19 h-1.19 z M981.68,1190.50 h1.19 v1.19 h-1.19 z M981.68,1192.88 h1.19 v1.19 h-1.19 z M981.68,1194.07 h1.19 v1.19 h-1.19 z M981.68,1195.26 h1.19 v1.19 h-1.19 z M981.68,1196.45 h1.19 v1.19 h-1.19 z M981.68,1197.64 h1.19 v1.19 h-1.19 z M981.68,1200.02 h1.19 v1.19 h-1.19 z M981.68,1201.21 h1.19 v1.19 h-1.19 z M981.68,1205.98 h1.19 v1.19 h-1.19 z M981.68,1209.55 h1.19 v1.19 h-1.19 z M982.87,1190.50 h1.19 v1.19 h-1.19 z M982.87,1191.69 h1.19 v1.19 h-1.19 z M982.87,1192.88 h1.19 v1.19 h-1.19 z M982.87,1194.07 h1.19 v1.19 h-1.19 z M982.87,1195.26 h1.19 v1.19 h-1.19 z M982.87,1196.45 h1.19 v1.19 h-1.19 z M982.87,1197.64 h1.19 v1.19 h-1.19 z M982.87,1198.83 h1.19 v1.19 h-1.19 z M982.87,1200.02 h1.19 v1.19 h-1.19 z M982.87,1201.21 h1.19 v1.19 h-1.19 z M982.87,1202.40 h1.19 v1.19 h-1.19 z M982.87,1204.79 h1.19 v1.19 h-1.19 z M982.87,1207.17 h1.19 v1.19 h-1.19 z M984.06,1190.50 h1.19 v1.19 h-1.19 z M984.06,1197.64 h1.19 v1.19 h-1.19 z M984.06,1198.83 h1.19 v1.19 h-1.19 z M984.06,1201.21 h1.19 v1.19 h-1.19 z M984.06,1202.40 h1.19 v1.19 h-1.19 z M984.06,1205.98 h1.19 v1.19 h-1.19 z M984.06,1209.55 h1.19 v1.19 h-1.19 z M984.06,1210.74 h1.19 v1.19 h-1.19 z M984.06,1213.12 h1.19 v1.19 h-1.19 z M985.25,1190.50 h1.19 v1.19 h-1.19 z M985.25,1192.88 h1.19 v1.19 h-1.19 z M985.25,1194.07 h1.19 v1.19 h-1.19 z M985.25,1195.26 h1.19 v1.19 h-1.19 z M985.25,1197.64 h1.19 v1.19 h-1.19 z M985.25,1198.83 h1.19 v1.19 h-1.19 z M985.25,1200.02 h1.19 v1.19 h-1.19 z M985.25,1203.60 h1.19 v1.19 h-1.19 z M985.25,1209.55 h1.19 v1.19 h-1.19 z M985.25,1213.12 h1.19 v1.19 h-1.19 z M985.25,1214.31 h1.19 v1.19 h-1.19 z M986.44,1190.50 h1.19 v1.19 h-1.19 z M986.44,1192.88 h1.19 v1.19 h-1.19 z M986.44,1194.07 h1.19 v1.19 h-1.19 z M986.44,1195.26 h1.19 v1.19 h-1.19 z M986.44,1197.64 h1.19 v1.19 h-1.19 z M986.44,1198.83 h1.19 v1.19 h-1.19 z M986.44,1201.21 h1.19 v1.19 h-1.19 z M986.44,1202.40 h1.19 v1.19 h-1.19 z M986.44,1204.79 h1.19 v1.19 h-1.19 z M986.44,1205.98 h1.19 v1.19 h-1.19 z M986.44,1207.17 h1.19 v1.19 h-1.19 z M986.44,1208.36 h1.19 v1.19 h-1.19 z M986.44,1209.55 h1.19 v1.19 h-1.19 z M986.44,1213.12 h1.19 v1.19 h-1.19 z M987.63,1190.50 h1.19 v1.19 h-1.19 z M987.63,1192.88 h1.19 v1.19 h-1.19 z M987.63,1194.07 h1.19 v1.19 h-1.19 z M987.63,1195.26 h1.19 v1.19 h-1.19 z M987.63,1197.64 h1.19 v1.19 h-1.19 z M987.63,1198.83 h1.19 v1.19 h-1.19 z M987.63,1200.02 h1.19 v1.19 h-1.19 z M987.63,1201.21 h1.19 v1.19 h-1.19 z M987.63,1204.79 h1.19 v1.19 h-1.19 z M987.63,1205.98 h1.19 v1.19 h-1.19 z M987.63,1207.17 h1.19 v1.19 h-1.19 z M987.63,1208.36 h1.19 v1.19 h-1.19 z M987.63,1211.93 h1.19 v1.19 h-1.19 z M987.63,1213.12 h1.19 v1.19 h-1.19 z M987.63,1214.31 h1.19 v1.19 h-1.19 z M988.82,1190.50 h1.19 v1.19 h-1.19 z M988.82,1197.64 h1.19 v1.19 h-1.19 z M988.82,1198.83 h1.19 v1.19 h-1.19 z M988.82,1202.40 h1.19 v1.19 h-1.19 z M988.82,1205.98 h1.19 v1.19 h-1.19 z M988.82,1207.17 h1.19 v1.19 h-1.19 z M988.82,1208.36 h1.19 v1.19 h-1.19 z M988.82,1210.74 h1.19 v1.19 h-1.19 z M988.82,1213.12 h1.19 v1.19 h-1.19 z M988.82,1214.31 h1.19 v1.19 h-1.19 z M990.01,1190.50 h1.19 v1.19 h-1.19 z M990.01,1191.69 h1.19 v1.19 h-1.19 z M990.01,1192.88 h1.19 v1.19 h-1.19 z M990.01,1194.07 h1.19 v1.19 h-1.19 z M990.01,1195.26 h1.19 v1.19 h-1.19 z M990.01,1196.45 h1.19 v1.19 h-1.19 z M990.01,1197.64 h1.19 v1.19 h-1.19 z M990.01,1201.21 h1.19 v1.19 h-1.19 z M990.01,1202.40 h1.19 v1.19 h-1.19 z M990.01,1203.60 h1.19 v1.19 h-1.19 z M990.01,1207.17 h1.19 v1.19 h-1.19 z M990.01,1210.74 h1.19 v1.19 h-1.19 z M990.01,1211.93 h1.19 v1.19 h-1.19 z M990.01,1213.12 h1.19 v1.19 h-1.19 z" fill="#333"/></g>
  </g>
</svg>

<div class="t" id="title" style="left: 101px; top: 108px; font-size: 33.51px; font-weight: bold; -webkit-text-stroke: 0.5px #231f20; transform-origin: 0px 0px; transform: scaleX(0.90); word-spacing: 11px;">전단키 설치공법 개요도</div>
<div class="t" id="p1" style="left: 473px; top: 583px; font-size: 24.5px; transform-origin: 0px 0px; transform: scaleX(0.89); word-spacing: 5px;">PSC빔교처럼 상부구조물이 하부로 돌출된 부분이없는</div>
<div class="t" id="p2" style="left: 473px; top: 615px; font-size: 24.5px; transform-origin: 0px 0px; transform: scaleX(0.87); word-spacing: 5px;">RC Slab교나 Steel Box교량과 PSC빔교의 교축방향</div>
<div class="t" id="p3" style="left: 473px; top: 650px; font-size: 24.5px; transform-origin: 0px 0px; transform: scaleX(0.91); word-spacing: 5px;">고정형은 상부구조물 하단에 <b>전단블럭</b>을 앵커볼트나</div>
<div class="t" id="p4" style="left: 473px; top: 682px; font-size: 24.5px; transform-origin: 0px 0px; transform: scaleX(0.90); word-spacing: 5px;">용접으로 고정하여 상부전단키와 전단블럭이 지지되어</div>
<div class="t" id="p5" style="left: 473px; top: 716px; font-size: 24.5px; transform-origin: 0px 0px; transform: scaleX(0.90); word-spacing: 5px;">지진수평력에 저항하는 구조</div>
<div class="t" id="h2" style="left: 720px; top: 509px; font-size: 24.63px; font-weight: bold; -webkit-text-stroke: 0.4px #231f20; transform-origin: 0px 0px; transform: scaleX(0.99); word-spacing: 6px;">전단블럭 상세도</div>
<div class="t" id="b1" style="left: 562px; top: 1335px; font-size: 22.5px; transform-origin: 0px 0px; transform: scaleX(1.00); word-spacing: 4px;">특허 제 10-1899834호</div>
<div class="t" id="b2" style="left: 563px; top: 1364px; font-size: 22.5px; transform-origin: 0px 0px; transform: scaleX(0.99); word-spacing: 4px;">상부구조물의 손상을 방지하는 미세조정이 가능한</div>
<div class="t" id="b3" style="left: 562px; top: 1389px; font-size: 22.5px; transform-origin: 0px 0px; transform: scaleX(1.00); word-spacing: 4px;">지진보강 전단키</div>
<div class="t" id="l1" style="left: 348px; top: 849px; font-size: 24.5px; transform-origin: 0px 0px; transform: scaleX(0.82); word-spacing: 5px;">내오플랜 완충제</div>
<div class="t" id="l2" style="left: 510px; top: 1007px; font-size: 24.5px; transform-origin: 0px 0px; transform: scaleX(0.82); word-spacing: 5px;">상부 전단키</div>
<div class="t" id="l3" style="left: 509px; top: 1122px; font-size: 24.5px; transform-origin: 0px 0px; transform: scaleX(0.84); word-spacing: 0px;">전단키볼트</div>
<div class="t" id="l4" style="left: 510px; top: 1233px; font-size: 24.5px; transform-origin: 0px 0px; transform: scaleX(0.82); word-spacing: 5px;">하부 전단키</div>
<div class="t" id="r1" style="left:135.5px;top:261px;font-size:24.3px;font-weight:bold;transform-origin:0 100%;transform:rotate(-17deg);">PSC 빔용</div>
<div class="t" id="r2" style="left:286px;top:214px;font-size:24.3px;font-weight:bold;transform-origin:0 100%;transform:rotate(-16deg);">RC, ST Box용</div>
<div id="certText" style="position:absolute;left:0;top:0;font-family:'Liberation Sans',sans-serif;">
<div class="c" id="c1" style="left:765.6px;top:878px;font-size:17px;font-weight:bold;color:#444;transform:scaleX(0.942)">특허증</div>
<div class="c" id="c2" style="left:765.6px;top:896.3px;font-size:7.6px;font-weight:bold;color:#555;letter-spacing:-0.2px;transform:scaleX(0.764)">CERTIFICATE OF PATENT</div>
<div class="c" id="c3" style="left:766px;top:932px;font-size:10px;font-weight:bold;color:#555;transform:scaleX(0.803)">특 허</div>
<div class="c" id="c4" style="left:766px;top:942.5px;font-size:4.5px;color:#666">Patent Number</div>
<div class="c" id="c5" style="left:821.4px;top:932px;font-size:10.5px;font-weight:bold;color:#3a3a3a;letter-spacing:-0.3px;transform:scaleX(0.819)">제 10-1899834 호</div>
<div class="c" id="c6" style="left:766px;top:959.5px;font-size:6.5px;font-weight:bold;color:#555">출원번호</div>
<div class="c" id="c7" style="left:766px;top:966.5px;font-size:4.5px;color:#666">Application Number</div>
<div class="c" id="c8" style="left:821.4px;top:960.5px;font-size:8.6px;color:#444;letter-spacing:-0.3px;transform:scaleX(0.855)">제 10-2017-0137243 호</div>
<div class="c" id="c9" style="left:766px;top:974px;font-size:6.5px;font-weight:bold;color:#555">출원일</div>
<div class="c" id="c10" style="left:766px;top:980.5px;font-size:4.5px;color:#666">Filing Date</div>
<div class="c" id="c11" style="left:821.4px;top:974.5px;font-size:8.6px;color:#444;letter-spacing:-0.2px;transform:scaleX(0.842)">2017년&nbsp; 10월&nbsp; 23일</div>
<div class="c" id="c12" style="left:766px;top:988px;font-size:6.5px;font-weight:bold;color:#555">등록일</div>
<div class="c" id="c13" style="left:766px;top:994.5px;font-size:4.5px;color:#666">Registration Date</div>
<div class="c" id="c14" style="left:821.4px;top:988px;font-size:8.6px;color:#444;letter-spacing:-0.2px;transform:scaleX(0.842)">2018년&nbsp; 09월&nbsp; 12일</div>
<div class="c" id="c15" style="left:765px;top:1018px;font-size:5px;color:#666">발명의 명칭 &nbsp;&nbsp;<span style="font-size:3.5px">Title of the Invention</span></div>
<div class="c" id="c16" style="left:763.8px;top:1026.6px;font-size:7.2px;color:#3a3a3a;letter-spacing:-0.1px;transform:scaleX(0.873)">상부구조물의 손상을 방지하는 미세조정이 가능한 지진보강 전단키</div>
<div class="c" id="c17" style="left:765px;top:1049.5px;font-size:5px;color:#666">특허권자 &nbsp;<span style="font-size:3.5px">Patentee</span></div>
<div class="c" id="c18" style="left:763.8px;top:1057.3px;font-size:7.2px;color:#3a3a3a;transform:scaleX(0.902)">이준구(470305-*******)</div>
<div class="c" id="c19" style="left:763.8px;top:1066px;font-size:7.2px;color:#3a3a3a;letter-spacing:-0.2px;transform:scaleX(0.876)">인천광역시 남동구 아암대로1503번길 21, 1005동 1301호(논현동, 에코메트로)</div>
<div class="c" id="c20" style="left:765px;top:1082px;font-size:5px;color:#666">발명자 &nbsp;<span style="font-size:3.5px">Inventor</span></div>
<div class="c" id="c21" style="left:763.8px;top:1090.4px;font-size:7.2px;color:#3a3a3a;transform:scaleX(0.885)">등록사항란에 기재</div>
<div class="c" id="c22" style="left:763.4px;top:1134.3px;font-size:10.2px;font-weight:bold;color:#3a3a3a;letter-spacing:0.1px;transform:scaleX(0.813)">위의 발명은 「특허법」에 따라 특허등록원부에 등록되었음을 증명합니다.</div>
<div class="c" id="c23" style="left:763.4px;top:1146.8px;font-size:7.6px;font-weight:bold;color:#3a3a3a;letter-spacing:-0.15px;transform:scaleX(0.972)">This is to certify that, in accordance with the Patent Act, a patent for the invention</div>
<div class="c" id="c24" style="left:763.4px;top:1154.9px;font-size:7.6px;font-weight:bold;color:#3a3a3a;letter-spacing:-0.15px;transform:scaleX(0.965)">has been registered at the Korean Intellectual Property Office.</div>
<div class="c" id="c25" style="left:853.8px;top:1198.1px;font-size:8px;color:#777;transform:scaleX(0.865)">2018년 09월 12일</div>
<div class="c" id="c26" style="left:997px;top:1204px;font-size:3.6px;color:#555;line-height:1.4">QR코드로 현재기준<br>등록사항을 확인하세요</div>
<div class="c" id="c27" style="left:853.7px;top:1217px;font-size:11px;font-weight:bold;color:#3a3a3a;transform:scaleX(0.958)">특허청장</div>
<div class="c" id="c28" style="left:853.7px;top:1229.7px;font-size:5.6px;font-weight:bold;color:#444;letter-spacing:-0.1px;transform:scaleX(0.890)">COMMISSIONER,</div>
<div class="c" id="c29" style="left:853.7px;top:1237.2px;font-size:5.6px;font-weight:bold;color:#444;letter-spacing:-0.1px;transform:scaleX(1.002)">KOREAN INTELLECTUAL PROPERTY OFFICE</div>
<div class="c" id="c30" style="left:770.5px;top:1242.2px;font-size:11px;color:#8a8a8a;transform:scaleX(1.187)">특허청</div>
<div class="c" id="c31" style="left:763.5px;top:1261px;font-size:4.8px;color:#999;text-align:center;width:54px;line-height:1.25">Korean Intellectual<br>Property Office</div>
<div class="c" id="sig" style="left:864px;top:1249px;font-size:21px;color:#333;font-family:'Liberation Serif',serif;letter-spacing:5px;transform:scaleX(0.82) rotate(-2deg)">성 윤 모</div>
</div>
</body></html>
